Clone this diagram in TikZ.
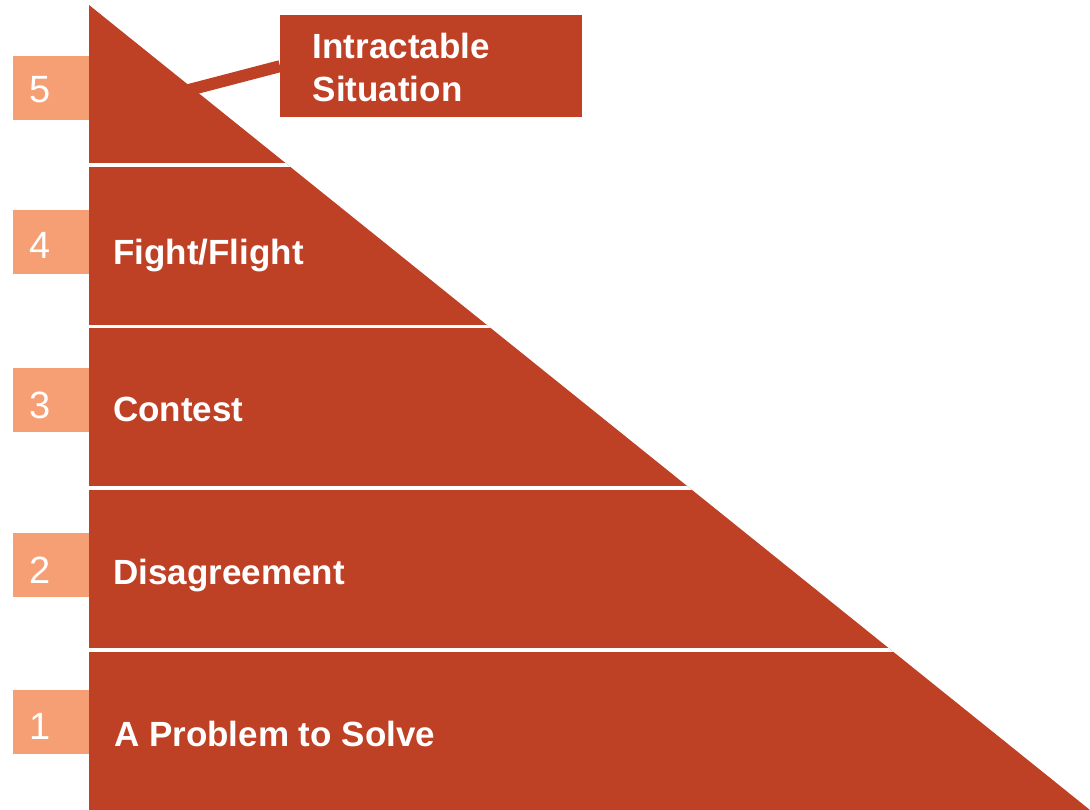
\documentclass[tikz,border=0pt]{standalone}
\usepackage{fontspec}
\setmainfont{Liberation Sans}
\definecolor{pyr}{RGB}{190,64,37}
\definecolor{numbg}{RGB}{246,159,116}
\begin{document}
\begin{tikzpicture}[x=1pt,y=-1pt,
 numbox/.style={fill=numbg, draw=none, minimum width=75.5pt, minimum height=64pt, inner sep=0pt, anchor=north west},
 numtxt/.style={text=white, font=\fontsize{38}{40}\selectfont, inner sep=0pt, anchor=base west},
 lbl/.style={text=white, font=\fontsize{35}{42}\selectfont\bfseries, inner sep=0pt, anchor=base west},
 band/.style={white, line width=3.5pt},
 callbox/.style={fill=pyr, minimum width=302pt, minimum height=102pt, inner sep=0pt, anchor=north west},
 leader/.style={pyr, line width=12pt}]
\useasboundingbox (0,0) rectangle (1090,810);
% pyramid
\fill[pyr] (89,5) -- (1090,810) -- (89,810) -- cycle;
\begin{scope}
\clip (89,5) -- (1090,810) -- (89,810) -- cycle;
\foreach \y in {165,326.5,488,650} \draw[band] (85,\y) -- (1095,\y);
\end{scope}
% number boxes
\node[numbox] (n5) at (13,56) {};
\node[numbox] (n4) at (13,209.5) {};
\node[numbox] (n3) at (13,368) {};
\node[numbox] (n2) at (13,533) {};
\node[numbox] (n1) at (13,689.5) {};
\node[numtxt] (t5) at (29.5,103) {5};
\node[numtxt] (t4) at (29.5,259) {4};
\node[numtxt] (t3) at (29.5,418) {3};
\node[numtxt] (t2) at (29.5,583) {2};
\node[numtxt] (t1) at (29.5,739) {1};
% labels
\node[lbl] (l4) at (113,264.5) {Fight/Flight};
\node[lbl] (l3) at (113,421.5) {Contest};
\node[lbl] (l2) at (113,584.5) {Disagreement};
\node[lbl] (l1) at (114,746) {A Problem to Solve};
% callout
\node[callbox] (callout) at (280,15) {};
\coordinate (lead) at (175,93.6);
\draw[leader] (lead) -- (callout.west);
\node[lbl] (c1) at (312.5,58.5) {Intractable};
\node[lbl] (c2) at (312.5,101.5) {Situation};
\end{tikzpicture}
\end{document}
